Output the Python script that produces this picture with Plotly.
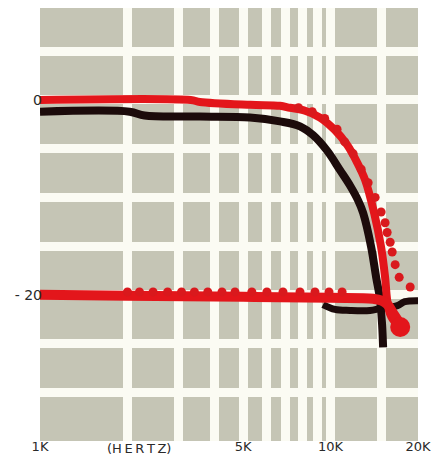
import math
import plotly.graph_objects as go

# ---- data ----
grid_freqs = [1000, 2000, 3000, 4000, 5000, 6000, 7000, 8000, 9000, 10000, 15000, 20000]
grid_labels = ["1K", "", "", "", "5K", "", "", "", "", "10K", "", "20K"]
grid_db = [-35, -30, -25, -20, -15, -10, -5, 0, 5, 10]
db_labels = ["", "", "", "- 20", "", "", "", "0", "", ""]

upper_red_f = [1000, 3300, 3550, 5300, 6700, 7250, 8170, 9200, 10360, 11400, 12340,
               13150, 14130, 14930, 15410, 15660, 16040, 16700, 17370]
upper_red_db = [0.0, 0.0, -0.2, -0.5, -0.6, -0.8, -1.1, -1.8, -3.1, -4.6, -6.4,
                -8.2, -11.6, -15.1, -18.2, -20.5, -22.0, -22.8, -23.0]

upper_black_f = [1000, 2035, 2290, 3550, 5280, 6700, 7850, 8700, 9730, 10780, 11680,
                 12440, 12950, 13800, 14355, 14810, 15050, 15170]
upper_black_db = [-1.2, -1.2, -1.6, -1.7, -1.8, -2.2, -2.7, -3.6, -5.2, -7.2, -8.8,
                  -10.3, -11.6, -15.1, -18.2, -20.5, -23.1, -25.4]

upper_dots_f = [7760, 8650, 9550, 10530, 11190, 11960, 12750, 13470, 14240, 14930,
                15410, 15660, 16040, 16300, 16690, 17230, 18800]
upper_dots_db = [-0.8, -1.2, -1.9, -3.0, -4.3, -5.5, -7.1, -8.5, -10.0, -11.5,
                 -12.6, -13.6, -14.6, -15.6, -16.9, -18.2, -19.2]

lower_red_f = [1000, 2000, 5000, 10000, 14000, 15000, 15700, 16500, 17370]
lower_red_db = [-20.0, -20.1, -20.2, -20.3, -20.4, -20.6, -21.0, -22.0, -23.0]

lower_black_f = [9420, 10360, 11680, 13680, 14810, 17000, 18000, 20000]
lower_black_db = [-21.0, -21.5, -21.6, -21.6, -21.4, -21.1, -20.7, -20.6]

lower_dots_f = [2000, 2200, 2450, 2750, 3070, 3400, 3780, 4230, 4690, 5360,
                6040, 6860, 7850, 8840, 9880, 10960]
lower_dots_db = [-19.7] * 16

blob_f = [17370]
blob_db = [-23.3]

RED = "#e3161b"
DOT = "#d9191d"
BLACK = "#1c0b0b"
CELL = "#c5c5b5"
GAP = "#fbfbf3"
TEXT = "#2a2a2a"

fig = go.Figure()
fig.add_trace(go.Scatter(x=upper_black_f, y=upper_black_db, mode="lines",
                         line=dict(color=BLACK, width=8, shape="spline"), hoverinfo="skip"))
fig.add_trace(go.Scatter(x=lower_black_f, y=lower_black_db, mode="lines",
                         line=dict(color=BLACK, width=7, shape="spline"), hoverinfo="skip"))
fig.add_trace(go.Scatter(x=upper_red_f, y=upper_red_db, mode="lines",
                         line=dict(color=RED, width=8, shape="spline"), hoverinfo="skip"))
fig.add_trace(go.Scatter(x=lower_red_f, y=lower_red_db, mode="lines",
                         line=dict(color=RED, width=10, shape="spline"), hoverinfo="skip"))
fig.add_trace(go.Scatter(x=upper_dots_f, y=upper_dots_db, mode="markers",
                         marker=dict(color=DOT, size=9), hoverinfo="skip"))
fig.add_trace(go.Scatter(x=lower_dots_f, y=lower_dots_db, mode="markers",
                         marker=dict(color=DOT, size=9), hoverinfo="skip"))
fig.add_trace(go.Scatter(x=blob_f, y=blob_db, mode="markers",
                         marker=dict(color=RED, size=20), hoverinfo="skip"))

FONT = dict(family="DejaVu Sans", size=13, color=TEXT)

# the page body adds an 8px offset, so the figure is sized to fit inside the window
fig.update_layout(
    width=431, height=454,
    margin=dict(l=32, r=21, t=0, b=21),
    paper_bgcolor="white",
    plot_bgcolor=CELL,
    showlegend=False,
    font=FONT,
    xaxis=dict(type="log", range=[3, math.log10(20000)],
               tickmode="array", tickvals=grid_freqs, ticktext=grid_labels,
               showgrid=True, gridcolor=GAP, gridwidth=9,
               zeroline=False, showline=False, ticks="", automargin=False,
               ticklabelstandoff=-4, tickfont=FONT),
    yaxis=dict(range=[-35, 9.44],
               tickmode="array", tickvals=grid_db, ticktext=db_labels,
               showgrid=True, gridcolor=GAP, gridwidth=9,
               zeroline=False, showline=False, ticks="", automargin=False,
               ticklabelstandoff=-3,
               tickfont=dict(family="DejaVu Sans", size=14, color=TEXT)),
    annotations=[dict(x=math.log10(2200), y=0, xref="x", yref="paper",
                      yanchor="top", yshift=2, showarrow=False,
                      text="(H\u2009E\u2009R\u2009T\u2009Z)", font=FONT)],
)

fig.write_html("out.html")
